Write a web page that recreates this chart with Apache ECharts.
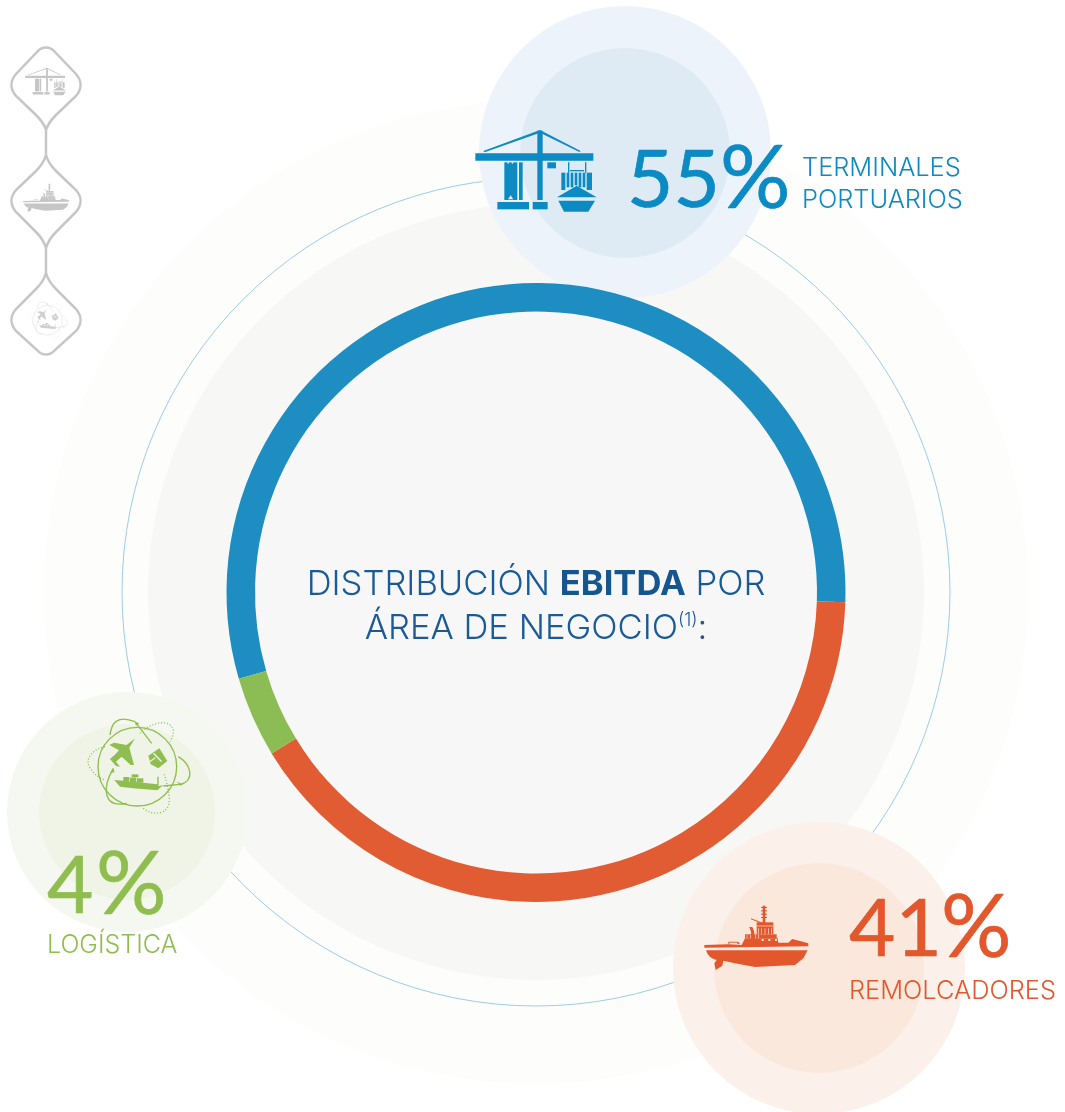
<!DOCTYPE html>
<html>
<head>
<meta charset="utf-8">
<title>Distribución EBITDA</title>
<script src="https://cdn.jsdelivr.net/npm/echarts@6/dist/echarts.min.js"></script>
<style>
  html, body { margin: 0; padding: 0; background: #fff; }
  #chart { width: 1065px; height: 1112px; }
</style>
</head>
<body>
<div id="chart"></div>
<script>
// datos
const areas = ['TERMINALES PORTUARIOS', 'REMOLCADORES', 'LOGÍSTICA']
const shares = [55, 41, 4]
const sliceValues = [55, 40.8, 4.2]
const sliceColors = ['#1d8dc2', '#e15c33', '#8bbd54']
const labelColors = ['#0b8ac3', '#e2572c', '#90bd4f']

const FONT = 'Inter, Roboto, sans-serif'
const NUM_FONT = 'Lato, Inter, sans-serif'
const CX = 536, CY = 592.5

function circle(cx, cy, r, fill, z, stroke) {
  return {
    type: 'circle', silent: true, z: z,
    shape: { cx: cx, cy: cy, r: r },
    style: stroke ? { fill: 'none', stroke: stroke, lineWidth: 1 } : { fill: fill }
  }
}

function label(x, y, text, size, color, weight, align, family) {
  return {
    type: 'text', silent: true, z: 5, x: x, y: y,
    style: {
      text: text, fill: color, align: align || 'left', verticalAlign: 'middle',
      font: (weight || 300) + ' ' + size + 'px ' + (family || FONT)
    }
  }
}

// numeros grandes: Lato con un trazo fino para igualar el grosor
function bigNum(x, y, text, size, color) {
  const el = label(x, y, text, size, color, 400, 'left', NUM_FONT)
  el.style.stroke = color
  el.style.lineWidth = 0.7
  return el
}

// iconos: coordenadas locales en px del recorte x3
const cranePaths = [
  'M46,130H400V152H46Z', 'M232,62H248V270H232Z',
  'M70,123L240,60L362,123L358,126L240,68L74,127Z',
  'M133,157H172V270H133Z', 'M177,157H188V270H177Z',
  'M112,276H207V298H112Z', 'M218,276H263V298H218Z', 'M262,157H288V175H262Z',
  'M295,272H405L385,305H312Z', 'M291,262L350,227L410,262Z',
  'M304,188H316V240H304Z', 'M320,188H328V232H320Z', 'M332,188H340V232H332Z',
  'M344,188H352V226H344Z', 'M356,188H364V232H356Z', 'M368,188H376V232H368Z', 'M380,188H396V240H380Z',
  'M324,157H328V188H324Z', 'M375,157H379V188H375Z', 'M330,180H372V184H330Z'
]
const craneHoles = [
  'M141,157h7l-3.5,6Z', 'M154,157h7l-3.5,6Z',
  'M144,268L152,256L160,268Z'
]
const tugPaths = [
  'M33,166L338,166L325,190L300,210L180,216L120,205L85,197L82,212L62,225L58,205L65,195Q40,190 33,166Z',
  'M28,150L100,148L128,150L140,150L150,130L248,130L250,143L280,143L292,132L315,138L340,145L340,154L28,158Z',
  'M150,118H245V130H150Z', 'M185,82H235V118H185Z', 'M203,32H211V96H203Z',
  'M198,36H216V39H198Z', 'M198,46H216V49H198Z', 'M198,56H216V59H198Z', 'M198,66H216V69H198Z',
  'M168,70L205,84L205,88L168,73Z',
  'M163,96L172,96L178,110L178,132L168,132L168,110Z',
  'M100,140H130L135,148H100Z'
]
const tugHoles = [
  'M200,132h6v6h-6Z', 'M220,132h6v6h-6Z', 'M240,132h6v6h-6Z', 'M103,143h24v4h-24Z',
  'M190,100h2v18h-2Z', 'M199,100h2v18h-2Z', 'M209,100h2v18h-2Z', 'M219,100h2v18h-2Z', 'M228,100h2v18h-2Z',
  'M185,92h50v2h-50Z', 'M155,120h2v10h-2Z', 'M165,120h2v10h-2Z', 'M180,120h2v10h-2Z', 'M190,120h2v10h-2Z'
]
const globeSolid = [
  'M172,67C237,67 290,120 290,185C290,250 237,303 172,303C107,303 54,250 54,185C54,120 107,67 172,67Z',
  'M90,90C95,50 115,30 165,50', 'M165,50L215,115',
  'M295,155C335,180 345,225 300,240', 'M250,243L300,238',
  'M100,190C65,250 70,310 140,295'
]
const globeDotted = [
  'M180,85C215,50 270,40 280,75C282,90 275,100 270,110',
  'M190,310C220,335 270,330 268,280C265,250 258,225 252,205',
  'M75,125C30,135 10,170 35,195C45,210 60,220 75,225'
]
const globeFill = [
  'M165,100L148,128L162,180L152,180L125,155L108,170L120,185L108,183L90,162L106,148L117,136L88,120L102,113L140,120Z',
  'M205,152L238,130L262,168L235,190L212,178Z',
  'M103,225L140,228L232,238V215H236V244L250,240L232,256L160,250L120,245Z',
  'M130,216H148V228H130Z', 'M150,218H168V231H150Z', 'M170,220H190V233H170Z', 'M155,208H175V217H155Z',
  'M165,50L178,55L168,62Z', 'M100,190L90,203L104,202Z', 'M300,240L290,230L310,238Z'
]
const globeHoles = [
  'M222,143L246,168L243,171L219,146Z', 'M227,160L210,172L208,169L225,157Z'
]

// cada icono se coloca con origen y escala
function icon(list, ox, oy, scale, fill, holes, holeFill) {
  const out = list.map(d => ({
    type: 'path', x: ox, y: oy, scaleX: scale, scaleY: scale,
    shape: { pathData: d }, style: { fill: fill }
  }))
  ;(holes || []).forEach(d => out.push({
    type: 'path', x: ox, y: oy, scaleX: scale, scaleY: scale,
    shape: { pathData: d }, style: { fill: holeFill }
  }))
  return out
}
function globe(ox, oy, scale, color, lw, mainFill, holeFill) {
  const line = (d, dash) => ({
    type: 'path', x: ox, y: oy, scaleX: scale, scaleY: scale,
    shape: { pathData: d },
    style: { fill: 'none', stroke: color, lineWidth: lw, lineDash: dash ? [3, 6] : null }
  })
  return globeSolid.map(d => line(d, false))
    .concat(globeDotted.map(d => line(d, true)))
    .concat(icon(globeFill, ox, oy, scale, mainFill, globeHoles, holeFill))
}

const GREY = '#c6c6c6'
const railPath =
  'M46,130C44,123 40,119 36,115L16,96C10,89 10,81 16,74L37,52C42,46 50,46 55,52L76,74C82,81 82,89 76,96L56,115C52,119 48,123 46,130V155' +
  'C44,162 40,167 36,171L16,190C10,197 10,205 16,212L36,232C40,236 44,241 46,248V273' +
  'C44,280 40,285 36,289L16,309C10,316 10,324 16,331L37,350C42,356 50,356 55,350L76,331C82,324 82,316 76,309L56,289C52,285 48,280 46,273V248' +
  'C48,241 52,236 56,232L76,212C82,205 82,197 76,190L56,171C52,167 48,162 46,155'

const centerRich = {
  a: { font: '300 34.6px ' + FONT, fill: '#1a5a96' },
  b: { font: '700 34.6px ' + FONT, fill: '#16568f' },
  s: { font: '300 18px ' + FONT, fill: '#1a5a96', verticalAlign: 'top' }
}
function centerLine(y, text) {
  const el = label(CX, y, text, 34.6, '#1a5a96', 300, 'center')
  el.style.rich = centerRich
  return el
}

const graphics = [
  circle(536, 592, 492, '#fdfdfb', 0),
  circle(536, 592, 414, null, 1, '#9ccde9'),
  circle(536, 592, 388, '#f7f7f5', 0),
  circle(CX, CY, 281, '#f7f7f7', 0),
  circle(625, 152, 146, '#edf3fb', 1),
  circle(625, 153, 105, '#dfebf4', 1),
  circle(127, 812, 120, '#f5f8f0', 1),
  circle(127, 812, 88, '#eff4e6', 1),
  circle(819, 968, 146, '#fcf0ea', 1),
  circle(819, 968, 105, '#fbe8dd', 1),
  centerLine(585, '{a|DISTRIBUCIÓN }{b|EBITDA}{a| POR}'),
  centerLine(629, '{a|ÁREA DE NEGOCIO}{s|(1)}{a|:}'),
  bigNum(627, 181, String(shares[0]), 80, labelColors[0]),
  bigNum(720, 180, '%', 88, labelColors[0]),
  label(802, 168, 'TERMINALES', 25.4, labelColors[0]),
  label(802, 200, 'PORTUARIOS', 25.4, labelColors[0]),
  bigNum(849, 930, String(shares[1]), 80, labelColors[1]),
  bigNum(941, 929, '%', 88, labelColors[1]),
  label(849, 991, areas[1], 25.4, labelColors[1]),
  bigNum(47, 887, String(shares[2]), 80, labelColors[2]),
  bigNum(96, 886, '%', 88, labelColors[2]),
  label(47, 945, areas[2], 25, labelColors[2])
]

const iconElements = [{
    type: 'path',
    shape: { pathData: railPath }, style: { fill: 'none', stroke: GREY, lineWidth: 2.5 }
  }]
  .concat(icon(cranePaths, 460, 110, 1 / 3, labelColors[0], craneHoles, '#dfebf4'))
  .concat(icon(tugPaths, 695, 895, 1 / 3, labelColors[1], tugHoles, '#fbe8dd'))
  .concat(globe(80, 705, 1 / 3, labelColors[2], 4, labelColors[2], '#eff4e6'))
  .concat(icon(cranePaths, 20, 61, 0.1126, GREY))
  .concat(icon(tugPaths, 19, 179, 0.147, GREY, tugHoles, '#fff'))
  .concat(globe(26, 297, 0.125, '#dadada', 4, '#cfcfcf', '#fff'))

const chart = echarts.init(document.getElementById('chart'), null, { renderer: 'canvas' })
chart.setOption({
  animation: false,
  backgroundColor: '#ffffff',
  graphic: { elements: graphics },
  series: [
    {
      type: 'pie',
      silent: true,
      clockwise: true,
      startAngle: 196.2,
      radius: [281, 309.5],
      center: [CX, CY],
      label: { show: false },
      labelLine: { show: false },
      z: 3,
      data: areas.map((name, i) => ({
        name: name, value: sliceValues[i], itemStyle: { color: sliceColors[i] }
      }))
    },
    {
      // iconos y carril lateral
      type: 'custom',
      coordinateSystem: 'none',
      silent: true,
      z: 4,
      data: [0],
      renderItem: () => ({ type: 'group', children: iconElements })
    }
  ]
})
</script>
</body>
</html>
